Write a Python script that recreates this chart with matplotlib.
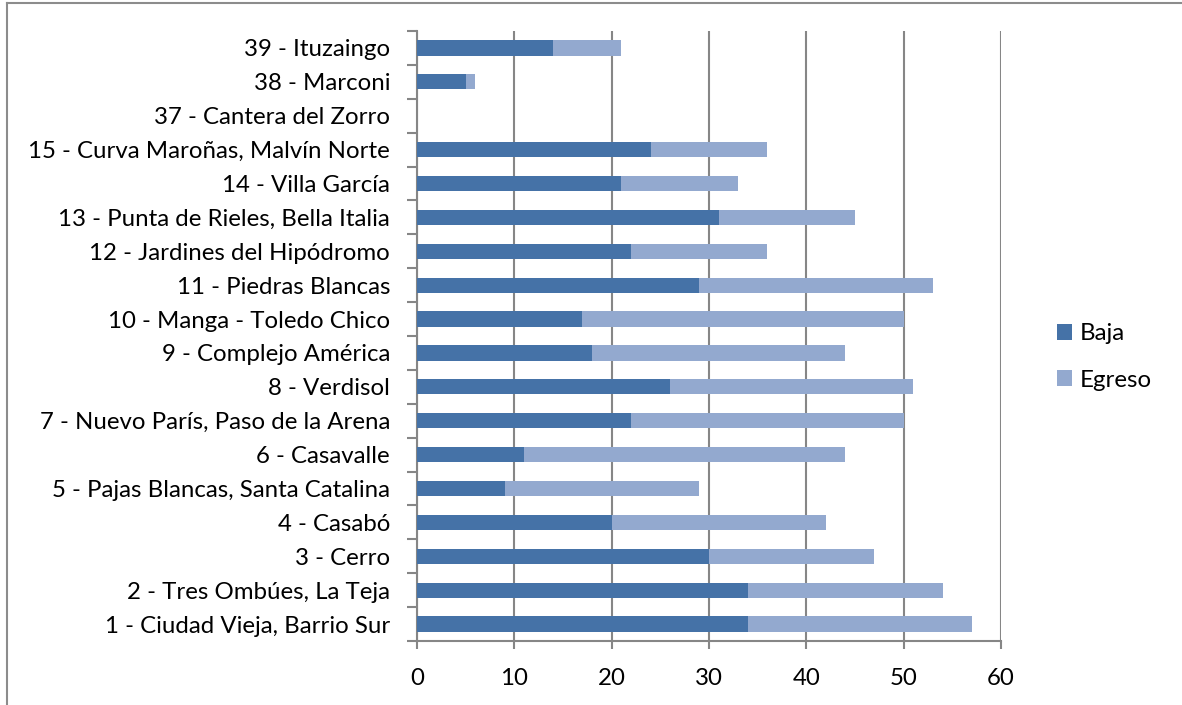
import matplotlib
matplotlib.use("Agg")
import matplotlib.pyplot as plt
from matplotlib.lines import Line2D
from matplotlib.patches import Patch
import numpy as np

categories = [
    "1 - Ciudad Vieja, Barrio Sur",
    "2 - Tres Ombúes, La Teja",
    "3 - Cerro",
    "4 - Casabó",
    "5 - Pajas Blancas, Santa Catalina",
    "6 - Casavalle",
    "7 - Nuevo París, Paso de la Arena",
    "8 - Verdisol",
    "9 - Complejo América",
    "10 - Manga - Toledo Chico",
    "11 - Piedras Blancas",
    "12 - Jardines del Hipódromo",
    "13 - Punta de Rieles, Bella Italia",
    "14 - Villa García",
    "15 - Curva Maroñas, Malvín Norte",
    "37 - Cantera del Zorro",
    "38 - Marconi",
    "39 - Ituzaingo",
]
baja = [34, 34, 30, 20, 9, 11, 22, 26, 18, 17, 29, 22, 31, 21, 24, 0, 5, 14]
egreso = [23, 20, 17, 22, 20, 33, 28, 25, 26, 33, 24, 14, 14, 12, 12, 0, 1, 7]
series_names = ["Baja", "Egreso"]
xticks = [0, 10, 20, 30, 40, 50, 60]

c_baja = "#4572A7"
c_egreso = "#93A9CF"
grid_c = "#868686"

plt.rcParams['font.family'] = ['Lato', 'DejaVu Sans']
fs = 17.3

fig = plt.figure(figsize=(11.82, 7.05), dpi=100)
W, H = 1182, 705
left, right, top, bottom = 417, 1001, 31, 641
ax = fig.add_axes([left / W, 1 - bottom / H, (right - left) / W, (bottom - top) / H])

y = np.arange(len(categories))
ax.barh(y, baja, height=0.45, color=c_baja, zorder=3)
ax.barh(y, egreso, left=baja, height=0.45, color=c_egreso, zorder=3)

ax.set_xlim(0, 60)
ax.set_ylim(-0.5, len(categories) - 0.5)
ax.set_xticks(xticks)
ax.set_xticklabels([str(v) for v in xticks], fontsize=fs)
ax.set_yticks(y)
ax.set_yticklabels(categories, fontsize=fs)
ax.tick_params(axis='y', which='major', length=0, pad=19.4)
ax.set_yticks(np.arange(-0.5, len(categories), 1), minor=True)
ax.tick_params(axis='y', which='minor', length=7, width=1.5, color=grid_c)
ax.tick_params(axis='x', length=6, width=1.5, color=grid_c, pad=13.5)
ax.xaxis.grid(True, color=grid_c, linewidth=1.5, zorder=0)
ax.set_axisbelow(True)
for s in ['top', 'right']:
    ax.spines[s].set_visible(False)
for s in ['left', 'bottom']:
    ax.spines[s].set_color(grid_c)
    ax.spines[s].set_linewidth(1.5)

handles = [Patch(facecolor=c_baja, edgecolor='none'), Patch(facecolor=c_egreso, edgecolor='none')]
fig.legend(handles, series_names, loc='center left', bbox_to_anchor=(1050 / W, 1 - 357 / H),
           frameon=False, fontsize=fs, handlelength=0.62, handleheight=0.62,
           handletextpad=0.3, labelspacing=1.05, borderaxespad=0, borderpad=0.3)

# chart border
fig.add_artist(Line2D([7 / W, 7 / W], [0, 1 - 3 / H], color="#8c8c8c", linewidth=1.5))
fig.add_artist(Line2D([7 / W, 1], [1 - 3 / H, 1 - 3 / H], color="#8c8c8c", linewidth=1.5))

fig.savefig("out.png", dpi=100)
